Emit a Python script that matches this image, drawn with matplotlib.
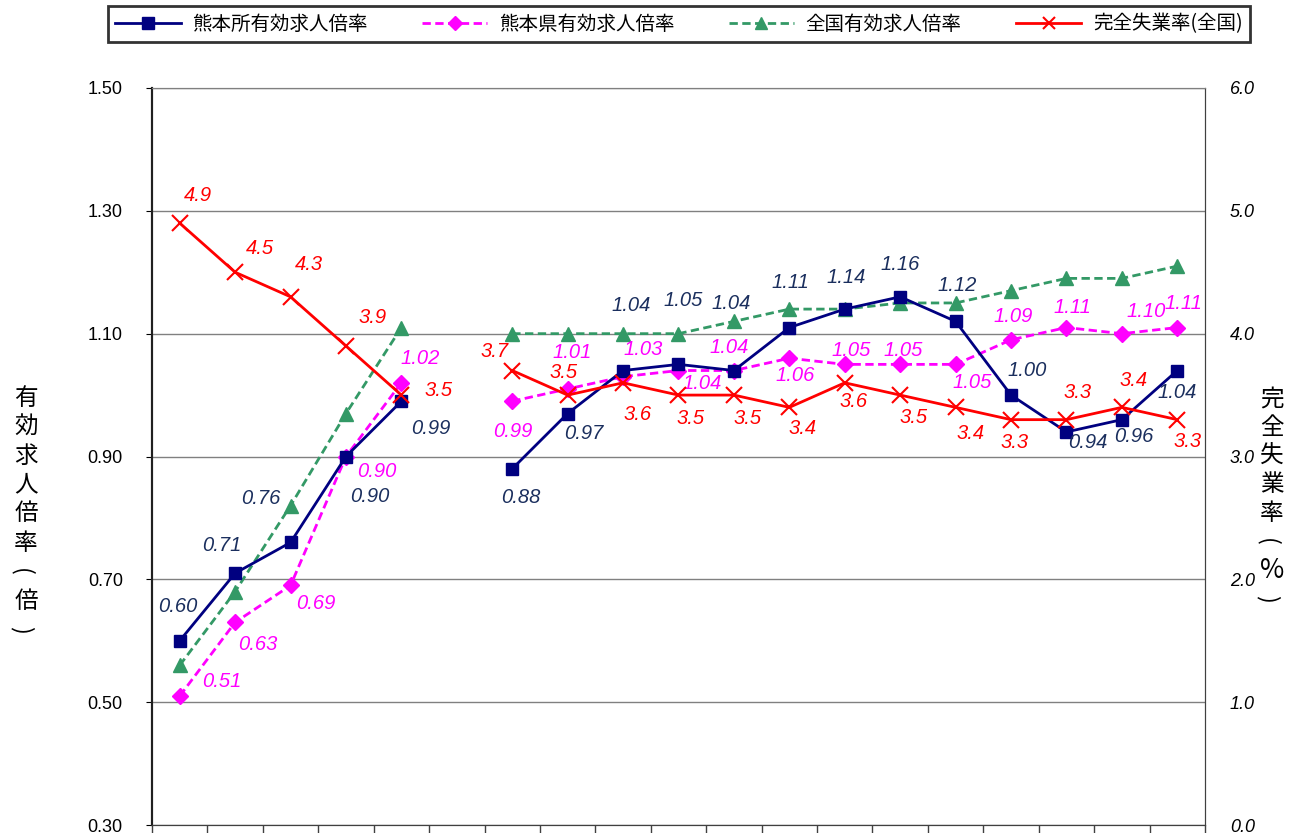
import numpy as np
import matplotlib
matplotlib.use('Agg')
from matplotlib import pyplot as plt
from matplotlib.lines import Line2D

plt.rcParams['font.family'] = ['Liberation Sans', 'Noto Sans CJK JP', 'DejaVu Sans']

# data (index 5 is a gap in the series)
n = 19
kumamoto_sho = [0.60, 0.71, 0.76, 0.90, 0.99, np.nan, 0.88, 0.97, 1.04, 1.05,
                1.04, 1.11, 1.14, 1.16, 1.12, 1.00, 0.94, 0.96, 1.04]
kumamoto_ken = [0.51, 0.63, 0.69, 0.90, 1.02, np.nan, 0.99, 1.01, 1.03, 1.04,
                1.04, 1.06, 1.05, 1.05, 1.05, 1.09, 1.11, 1.10, 1.11]
zenkoku = [0.56, 0.68, 0.82, 0.97, 1.11, np.nan, 1.10, 1.10, 1.10, 1.10,
           1.12, 1.14, 1.14, 1.15, 1.15, 1.17, 1.19, 1.19, 1.21]
shitsugyo = [4.9, 4.5, 4.3, 3.9, 3.5, np.nan, 3.7, 3.5, 3.6, 3.5,
             3.5, 3.4, 3.6, 3.5, 3.4, 3.3, 3.3, 3.4, 3.3]

labels = ['熊本所有効求人倍率', '熊本県有効求人倍率', '全国有効求人倍率', '完全失業率(全国)']
ylabel_left = ['有', '効', '求', '人', '倍', '率', '(', '倍', ')']
ylabel_right = ['完', '全', '失', '業', '率', '(', '%', ')']

# label offsets in pixels (dx, dy), dy positive = up
off_sho = [(-2, 34), (-13, 28), (-30, 44), (24, -40), (29, -27), None, (9, -29), (16, -20),
           (8, 65), (5, 64), (-3, 67), (1, 45), (1, 32), (0, 32), (2, 36), (16, 25),
           (21, -11), (12, -17), (0, -22)]
off_ken = [(42, 15), (23, -22), (25, -18), (31, -15), (19, 24), None, (1, -30), (5, 36),
           (20, 27), (24, -13), (-5, 23), (6, -17), (6, 14), (3, 14), (17, -18), (2, 23),
           (6, 20), (24, 22), (6, 24)]
off_red = [(18, 28), (25, 24), (18, 32), (27, 28), (37, 5), None, (-18, 19), (-4, 23),
           (15, -32), (12, -23), (14, -23), (13, -21), (9, -19), (13, -22), (15, -26),
           (4, -23), (11, 27), (12, 27), (10, -22)]

NAVY = '#000080'
MAGENTA = '#FF00FF'
GREEN = '#339966'
RED = '#FF0000'
NAVY_TXT = '#1B2F5E'
DASH = (0, (3, 1.6))

W, H = 1290, 833
fig = plt.figure(figsize=(W / 100, H / 100), dpi=100)
fig.subplots_adjust(left=152/W, right=1205/W, top=1-88/H, bottom=1-825/H)
ax = fig.add_subplot(111)
ax2 = ax.twinx()

x = np.arange(n)

ax.plot(x, kumamoto_sho, color=NAVY, lw=2, marker='s', ms=9, zorder=4)
ax.plot(x, kumamoto_ken, color=MAGENTA, lw=2, ls=DASH, marker='D', ms=8, zorder=3)
ax.plot(x, zenkoku, color=GREEN, lw=2, ls=DASH, marker='^', ms=10, zorder=2)
ax2.plot(x, shitsugyo, color=RED, lw=2, marker='x', ms=11, mew=1.5, zorder=5)

ax.set_xlim(-0.5, n - 0.5)
ax.set_ylim(0.30, 1.50)
yt = np.arange(0.30, 1.51, 0.20)
ax.set_yticks(yt)
ax.set_yticklabels(['%.2f' % v for v in yt], fontsize=13)
ax.set_xticks(np.arange(-0.5, n, 1.0))
ax.set_xticklabels([])
ax.tick_params(axis='x', direction='out', length=8, width=1, color='#404040')
ax.tick_params(axis='y', direction='out', length=4, pad=17)
ax.grid(axis='y', color='#808080', lw=1)
ax.set_axisbelow(True)

ax2.set_ylim(0.0, 6.0)
yt2 = np.arange(0, 6.1, 1.0)
ax2.set_yticks(yt2)
ax2.set_yticklabels(['%.1f' % v for v in yt2], fontsize=13, style='italic')
ax2.tick_params(axis='y', length=0, pad=18)

for a in (ax, ax2):
    a.spines['top'].set_color('#808080')
    a.spines['left'].set_linewidth(1.5)
    a.spines['left'].set_color('#202020')
    a.spines['right'].set_color('#404040')
    a.spines['bottom'].set_color('#404040')


def annotate(axis, vals, offs, fmt, color):
    for i, (v, o) in enumerate(zip(vals, offs)):
        if o is None or np.isnan(v):
            continue
        axis.annotate(fmt % v, (i, v), xytext=o, textcoords='offset pixels',
                      ha='center', va='center', fontsize=14.5, style='italic',
                      color=color, zorder=6)


annotate(ax, kumamoto_sho, off_sho, '%.2f', NAVY_TXT)
annotate(ax, kumamoto_ken, off_ken, '%.2f', MAGENTA)
annotate(ax2, shitsugyo, off_red, '%.1f', RED)


# vertical (stacked) axis titles, parentheses turned sideways
def vtitle(chars, xpx, ypx0, step):
    for k, ch in enumerate(chars):
        paren = ch in '()'
        fs = 19 if ch == '%' else 17
        fig.text((xpx - 5 if paren else xpx) / W, 1 - (ypx0 + k * step) / H, ch,
                 ha='center', va='center', rotation=-90 if paren else 0, fontsize=fs,
                 family=['Noto Sans CJK JP', 'DejaVu Sans'])


vtitle(ylabel_left, 26, 398, 29)
vtitle(ylabel_right, 1272, 399, 28.5)

handles = [
    Line2D([], [], color=NAVY, lw=2, marker='s', ms=8),
    Line2D([], [], color=MAGENTA, lw=2, ls=DASH, marker='D', ms=7),
    Line2D([], [], color=GREEN, lw=2, ls=DASH, marker='^', ms=9),
    Line2D([], [], color=RED, lw=2, marker='x', ms=9, mew=1.5),
]
leg = fig.legend(handles, labels, loc='center', bbox_to_anchor=(679/W, 1-24/H),
                 ncol=4, frameon=True, fancybox=False, edgecolor='black',
                 handlelength=3.35, handletextpad=0.6, columnspacing=2.8, borderpad=0.4,
                 prop={'family': ['Noto Sans CJK JP', 'DejaVu Sans'], 'size': 14})
leg.get_frame().set_linewidth(2)

fig.savefig('out.png', dpi=100)
